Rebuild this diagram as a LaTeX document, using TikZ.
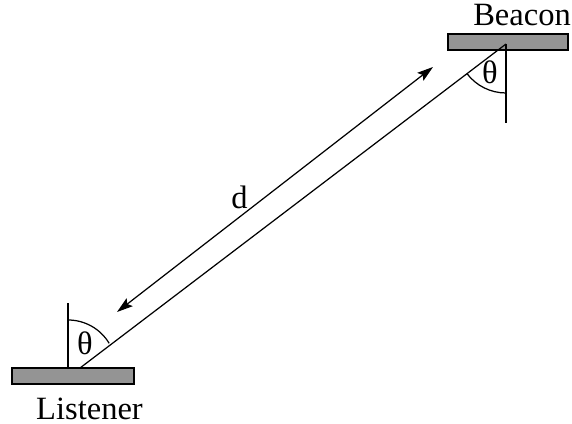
\documentclass[tikz,border=0pt]{standalone}
\usepackage{fontspec}
\setmainfont{Liberation Serif}
\usetikzlibrary{arrows.meta}

\begin{document}
\begin{tikzpicture}[
  font=\fontsize{18.5}{20}\selectfont,
  bar/.style={
    rectangle, draw=black, fill=black!42, line width=0.7pt,
    minimum height=0.32cm, inner sep=0pt
  },
  line/.style={black, line width=0.7pt},
  distarrow/.style={{Stealth[length=3.2mm,width=2mm,inset=0.6mm]}-{Stealth[length=3.2mm,width=2mm,inset=0.6mm]}, black, line width=0.7pt},
]
\useasboundingbox (0,0) rectangle (11.44,8.46);

% Bars
\node[bar, minimum width=2.4cm]  (beaconbar)   at (10.16, 7.62) {};
\node[bar, minimum width=2.44cm] (listenerbar) at (1.46, 0.94) {};

% Labels
\node[anchor=base] (beacon)   at (10.44, 7.94) {Beacon};
\node[anchor=base] (listener) at (1.79, 0.08) {Listener};

% Points
\coordinate (bvert)  at (10.12, 7.58);
\coordinate (bdown)  at (10.12, 6.00);
\coordinate (lvert)  at (1.36, 1.10);
\coordinate (lup)    at (1.36, 2.40);
\coordinate (lfoot)  at (1.60, 1.10);
\coordinate (dlow)   at (2.34, 2.22);
\coordinate (dhigh)  at (8.66, 7.12);

% Lines
\draw[line] (bvert) -- (bdown);
\draw[line] (lvert) -- (lup);
\draw[line] (lfoot) -- (bvert);

% Angles
\draw[line] (lvert) ++(90:0.96) arc[start angle=90, end angle=31, radius=0.96];
\draw[line] (bvert) ++(217:0.98) arc[start angle=217, end angle=270, radius=0.98];
\node (ltheta) at (1.70, 1.60) {θ};
\node (btheta) at (9.80, 7.01) {θ};

% Distance
\draw[distarrow] (dlow) -- (dhigh);
\node (d) at (4.79, 4.52) {d};

\end{tikzpicture}
\end{document}
